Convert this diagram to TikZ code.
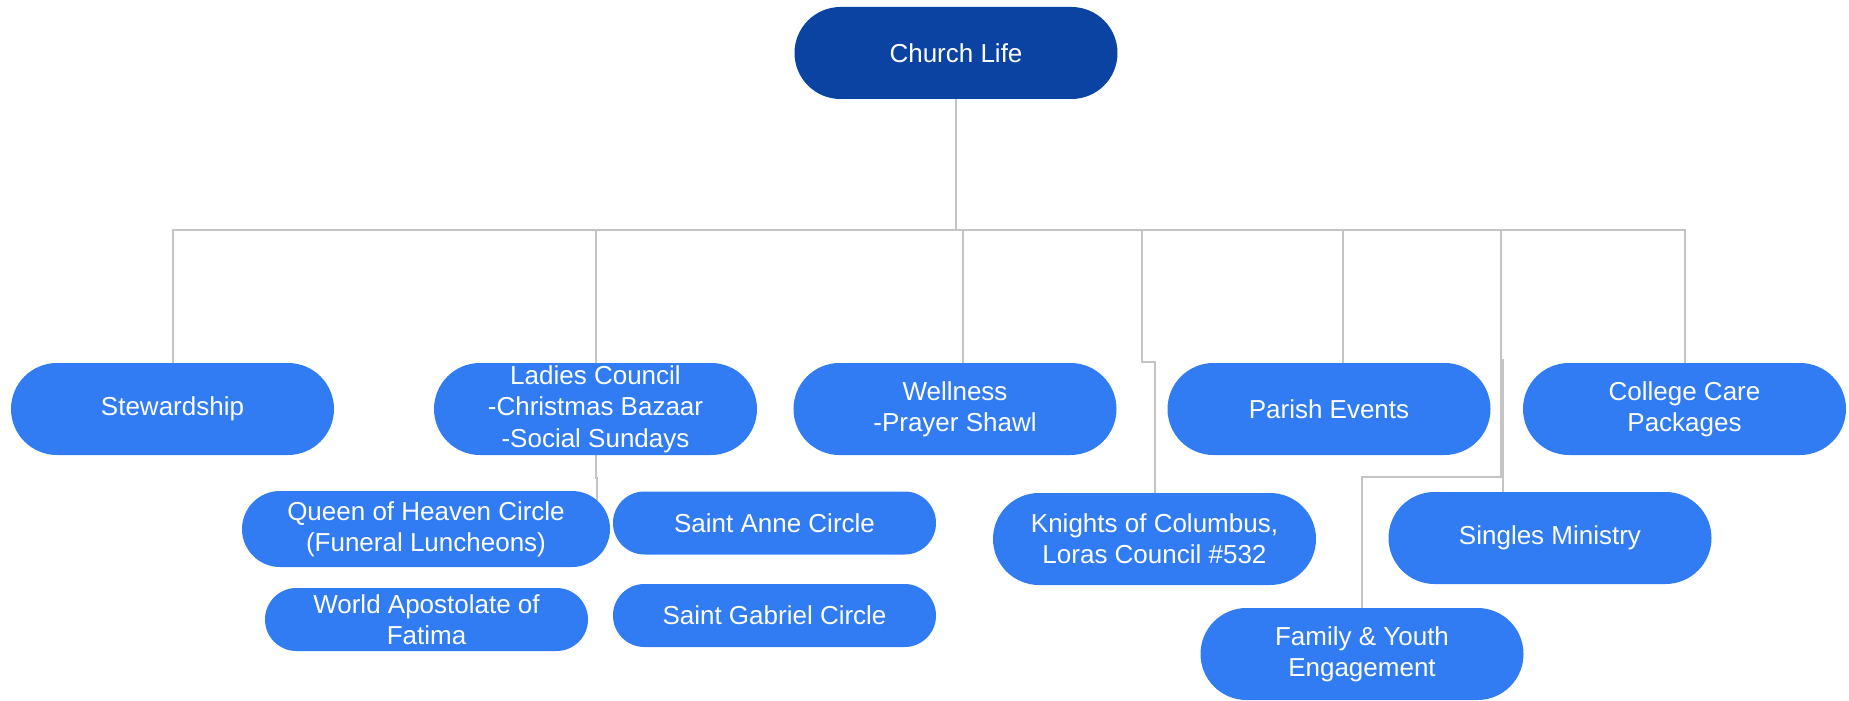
\documentclass[tikz,border=0pt]{standalone}
\usepackage{fontspec}
\setmainfont{Liberation Sans}
\usetikzlibrary{backgrounds}
\definecolor{topblue}{HTML}{0B43A3}
\definecolor{boxblue}{HTML}{317CF3}
\definecolor{linegrey}{HTML}{C4C4C4}
\begin{document}
\begin{tikzpicture}[x=0.5pt,y=-0.5pt,font=\fontsize{13}{15.7}\selectfont]
	\tikzset{pill/.style={rectangle,rounded corners=23pt,fill=boxblue,text=white,
			minimum width=161.5pt,minimum height=46pt,inner sep=0pt,align=center},
		flat/.style={minimum height=31.5pt,rounded corners=15.7pt},
		link/.style={draw=linegrey,line width=1pt}}
	\useasboundingbox (0,0) rectangle (1849,701);
	% top
	\node[pill,fill=topblue] (church) at (956,53) {Church Life};
	% first row
	\node[pill] (stew) at (172.5,409) {Stewardship};
	\node[pill] (ladies) at (595.5,409) {Ladies Council\\-Christmas Bazaar\\-Social Sundays};
	\node[pill] (well) at (955,409) {Wellness\\-Prayer Shawl};
	\node[pill] (parish) at (1329,409) {Parish Events};
	\node[pill] (college) at (1684.5,409) {College Care\\Packages};
	% circles under the ladies council
	\node[pill,minimum width=184pt,minimum height=38pt,rounded corners=19pt] (queen) at (426,529) {Queen of Heaven Circle\\(Funeral Luncheons)};
	\node[pill,flat] (anne) at (774.5,523) {Saint Anne Circle};
	\node[pill,flat] (fatima) at (426.5,619.5) {World Apostolate of\\Fatima};
	\node[pill,flat] (gabriel) at (774.5,615.5) {Saint Gabriel Circle};
	% lower row
	\node[pill] (knights) at (1154.5,539) {Knights of Columbus,\\Loras Council \#532};
	\node[pill] (singles) at (1550,538) {Singles Ministry};
	\node[pill] (family) at (1362,654) {Family \& Youth\\Engagement};
	\coordinate (bus) at (956,230);
	\coordinate (kjog) at (1142,362);
	\coordinate (fjog) at (1501,477);
	\coordinate (sjog) at (1501,360);
	\coordinate (ljog) at (597,478);
	\begin{scope}[on background layer]
		\draw[link] (church.south) -- (church.south |- bus);
		\draw[link] (stew.north) |- (college.north |- bus) -- (college.north);
		\draw[link] (ladies.north) -- (ladies.north |- bus);
		\draw[link] ([xshift=4pt]well.north) -- ([xshift=4pt]well.north |- bus);
		\draw[link] ([xshift=7pt]parish.north) -- ([xshift=7pt]parish.north |- bus);
		\draw[link] (knights.north) |- (kjog) -- (kjog |- bus);
		\draw[link] (family.north) |- (fjog) -- (fjog |- bus);
		\draw[link] ([xshift=-23.5pt]singles.north) |- (sjog);
		\draw[link] (ladies.south) |- (ljog) -- (ljog |- queen);
	\end{scope}
\end{tikzpicture}
\end{document}
